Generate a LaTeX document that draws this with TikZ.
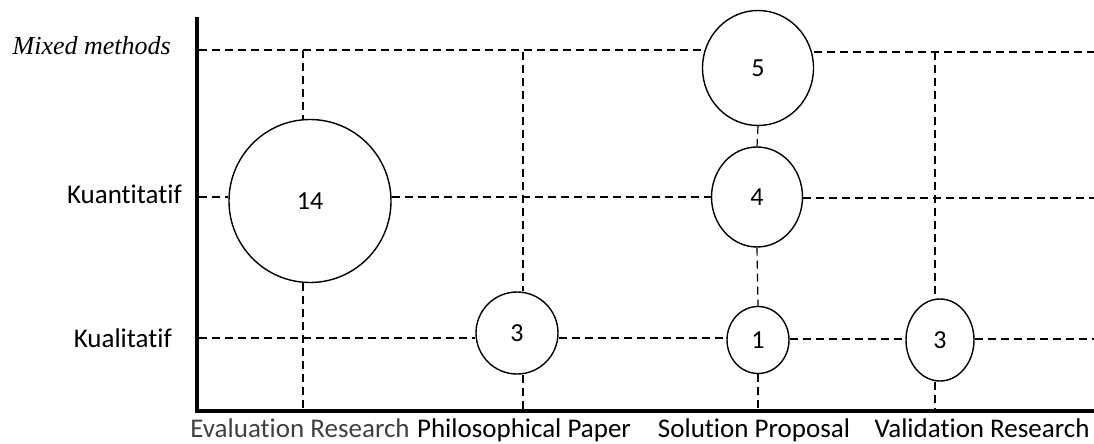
\documentclass[tikz,border=0pt]{standalone}
\usepackage{fontspec}
\newfontfamily\calfont[Ligatures=NoCommon]{Carlito}
\newfontfamily\tnrfont{Liberation Serif}
\usetikzlibrary{shapes.geometric}
\definecolor{evalgray}{HTML}{404040}
\begin{document}
\begin{tikzpicture}[x=1pt,y=-1pt,
  axisline/.style={line width=4pt},
  gridline/.style={line width=1.2pt,dash pattern=on 8pt off 5pt},
  bubble/.style={ellipse,draw,line width=1.4pt,fill=white,inner sep=0pt,font=\calfont\fontsize{26}{26}\selectfont},
  lbl/.style={font=\calfont\fontsize{27}{27}\selectfont,inner sep=0pt},
]
\useasboundingbox (0,0) rectangle (1094,444);
% axes
\coordinate (ax0) at (197,17);
\coordinate (ax1) at (197,410.5);
\coordinate (ax2) at (1094,410.5);
% bubbles
\node[bubble,minimum width=162pt,minimum height=163pt] (c14) at (310,201) {14};
\node[bubble,minimum width=111pt,minimum height=115pt] (c5) at (758,68) {5};
\node[bubble,minimum width=91pt,minimum height=100pt] (c4) at (757,197) {4};
\node[bubble,minimum width=82pt,minimum height=82pt] (cp3) at (517,333) {3};
\node[bubble,minimum width=62pt,minimum height=67pt] (c1) at (758,340) {1};
\node[bubble,minimum width=68pt,minimum height=82pt] (cv3) at (940,340) {3};
% grid coordinates
\coordinate (m0) at (199,50);
\coordinate (m1) at (1094,52);
\coordinate (k0) at (199,197);
\coordinate (k1) at (1094,198);
\coordinate (q0) at (199,338);
\coordinate (q1) at (1094,339);
\coordinate (ev0) at (303,50);
\coordinate (ev1) at (303,409);
\coordinate (ph0) at (523,52);
\coordinate (ph1) at (523,409);
\coordinate (so1) at (758,409);
\coordinate (va0) at (935,52);
\coordinate (va1) at (935,409);
% rows
\draw[gridline] (m0) -- (c5.west |- m0);
\draw[gridline] (c5.east |- m1) -- (m1);
\draw[gridline] (k0) -- (c14.west |- k0);
\draw[gridline] (c14.east |- k0) -- (c4.west |- k0);
\draw[gridline] (c4.east |- k1) -- (k1);
\draw[gridline] (q0) -- (cp3.west |- q0);
\draw[gridline] (cp3.east |- q0) -- (c1.west |- q0);
\draw[gridline] (c1.east |- q1) -- (cv3.west |- q1);
\draw[gridline] (cv3.east |- q1) -- (q1);
% columns
\draw[gridline] (ev0) -- (ev0 |- c14.north);
\draw[gridline] (ev0 |- c14.south) -- (ev1);
\draw[gridline] (ph0) -- (ph0 |- cp3.north);
\draw[gridline] (ph0 |- cp3.south) -- (ph1);
\draw[gridline] (c5.south) -- (c4.north);
\draw[gridline] (c4.south) -- (c1.north);
\draw[gridline] (c1.south) -- (so1);
\draw[gridline] (va0) -- (va0 |- cv3.north);
\draw[gridline] (va0 |- cv3.south) -- (va1);
\draw[axisline] (ax0) -- (ax1) -- (ax2);
% labels
\node[inner sep=0pt,anchor=base east,font=\tnrfont\itshape\fontsize{26}{26}\selectfont] (lmix) at (171,55) {Mixed methods};
\node[lbl,anchor=base east] (lkuan) at (182,203) {Kuantitatif};
\node[lbl,anchor=base east] (lkual) at (172,347) {Kualitatif};
\node[lbl,anchor=base,text=evalgray] (lev) at (300,437) {Evaluation Research};
\node[lbl,anchor=base] (lph) at (524,437) {Philosophical Paper};
\node[lbl,anchor=base] (lso) at (754,437) {Solution Proposal};
\node[lbl,anchor=base] (lva) at (982,437) {Validation Research};
\end{tikzpicture}
\end{document}
